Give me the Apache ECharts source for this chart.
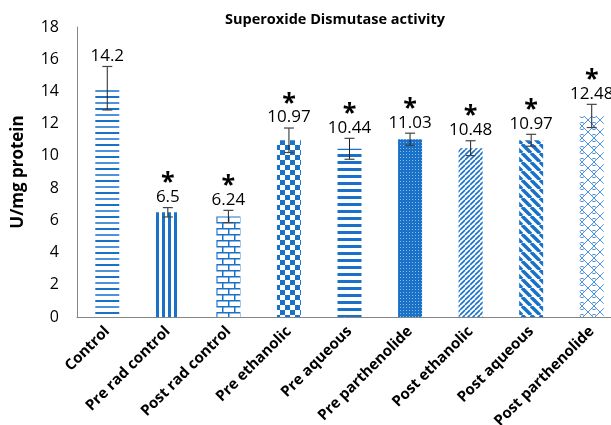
<!DOCTYPE html>
<html><head><meta charset="utf-8">
<script src="https://cdn.jsdelivr.net/npm/echarts@6/dist/echarts.min.js"></script>
<style>html,body{margin:0;padding:0;background:#fff}#c{width:611px;height:425px}</style>
</head><body><div id="c"></div>
<script>
var categories = ['Control','Pre rad control','Post rad control','Pre ethanolic','Pre aqueous','Pre parthenolide','Post ethanolic','Post aqueous','Post parthenolide'];
var means = [14.2, 6.5, 6.24, 10.97, 10.44, 11.03, 10.48, 10.97, 12.48];
var errors = [1.35, 0.29, 0.38, 0.76, 0.65, 0.38, 0.46, 0.37, 0.72];
var significant = [false, true, true, true, true, true, true, true, true];
var valueLabels = ['14.2','6.5','6.24','10.97','10.44','11.03','10.48','10.97','12.48'];
var yTicks = [0,2,4,6,8,10,12,14,16,18];

var D = '#1a72c8', M = '#4d93dc', L = '#8cbcec';
function mk(w,h,draw){var c=document.createElement('canvas');c.width=w;c.height=h;var g=c.getContext('2d');g.fillStyle='#fff';g.fillRect(0,0,w,h);draw(g);return c;}
var patterns = [
  mk(4,12,function(g){g.fillStyle=D;g.fillRect(0,0,4,2);g.fillStyle=M;g.fillRect(0,6,4,2);}),
  mk(6,4,function(g){g.fillStyle=D;g.fillRect(0,0,3,4);}),
  mk(12,12,function(g){g.fillStyle=D;g.fillRect(0,0,12,1.5);g.fillRect(0,6,12,1.5);g.fillRect(0,0,1.5,6);g.fillRect(6,6,1.5,6);}),
  mk(10,10,function(g){g.fillStyle=D;g.fillRect(0,0,5,5);g.fillRect(5,5,5,5);}),
  mk(4,7,function(g){g.fillStyle=D;g.fillRect(0,0,4,3);}),
  mk(3,3,function(g){g.fillStyle=D;g.fillRect(0,0,3,3);g.fillStyle=L;g.fillRect(1,1,1,1);}),
  mk(5,5,function(g){g.strokeStyle=D;g.lineWidth=1.6;g.beginPath();for(var k=-5;k<=5;k+=5){g.moveTo(k,5);g.lineTo(k+5,0);}g.stroke();}),
  mk(9,9,function(g){g.strokeStyle=D;g.lineWidth=3.5;g.beginPath();for(var k=-9;k<=9;k+=9){g.moveTo(k,0);g.lineTo(k+9,9);}g.stroke();}),
  mk(12,12,function(g){g.strokeStyle=M;g.lineWidth=1;g.beginPath();
    g.moveTo(0,0);g.lineTo(6,6);g.lineTo(12,0);g.moveTo(0,12);g.lineTo(6,6);g.lineTo(12,12);
    g.moveTo(3.5,3.5);g.quadraticCurveTo(6,1,8.5,3.5);g.moveTo(3.5,8.5);g.quadraticCurveTo(6,11,8.5,8.5);g.stroke();})
];

var chart = echarts.init(document.getElementById('c'), null, {renderer:'canvas'});
var FONT = 'Open Sans';
chart.setOption({
  animation:false,
  title:{text:'Superoxide Dismutase activity',left:220,top:7,
    textStyle:{fontFamily:FONT,fontSize:14.5,fontWeight:'bold',color:'#000'}},
  grid:{left:77,top:27,width:545,height:290,containLabel:false,outerBoundsMode:'none'},
  xAxis:{type:'category',data:categories,
    axisLine:{lineStyle:{color:'#868686'}},axisTick:{show:false},
    axisLabel:{rotate:45,interval:0,margin:12,fontFamily:FONT,fontSize:15,fontWeight:'bold',color:'#000'}},
  yAxis:{type:'value',min:0,max:18,interval:2,
    name:'U/mg protein',nameLocation:'middle',nameGap:50,
    nameTextStyle:{fontFamily:FONT,fontSize:17,fontWeight:'bold',color:'#000'},
    axisLine:{show:true,lineStyle:{color:'#868686'}},axisTick:{show:false},splitLine:{show:false},
    axisLabel:{margin:18,fontFamily:FONT,fontSize:16,color:'#000',
      formatter:function(v){return yTicks.indexOf(v)>=0?String(v):'';}}},
  series:[
    {type:'bar',barWidth:24,
     data:means.map(function(v,i){return {value:v,itemStyle:{color:{image:patterns[i],repeat:'repeat'}}};})},
    {type:'custom',
     data:means.map(function(v,i){return [i,v,errors[i]];}),
     z:10,
     renderItem:function(params,api){
       var i=api.value(0),m=api.value(1),e=api.value(2);
       var top=api.coord([i,m+e]),bot=api.coord([i,m-e]);
       var x=top[0],hw=5;
       var ch=[
         {type:'line',shape:{x1:x,y1:top[1],x2:x,y2:bot[1]},style:{stroke:'#222',lineWidth:1}},
         {type:'line',shape:{x1:x-hw,y1:top[1],x2:x+hw,y2:top[1]},style:{stroke:'#444',lineWidth:1.2}},
         {type:'line',shape:{x1:x-hw,y1:bot[1],x2:x+hw,y2:bot[1]},style:{stroke:'#444',lineWidth:1.2}},
         {type:'text',style:{x:x,y:top[1]-2,text:valueLabels[i],textAlign:'center',textVerticalAlign:'bottom',
           font:'17px "'+FONT+'"',fill:'#000'}}
       ];
       if(significant[params.dataIndex]){
         ch.push({type:'text',style:{x:x,y:top[1]-12,text:'*',textAlign:'center',textVerticalAlign:'bottom',
           font:'bold 25px "'+FONT+'"',fill:'#000'}});
       }
       return {type:'group',children:ch};
     }}
  ]
});
</script></body></html>
